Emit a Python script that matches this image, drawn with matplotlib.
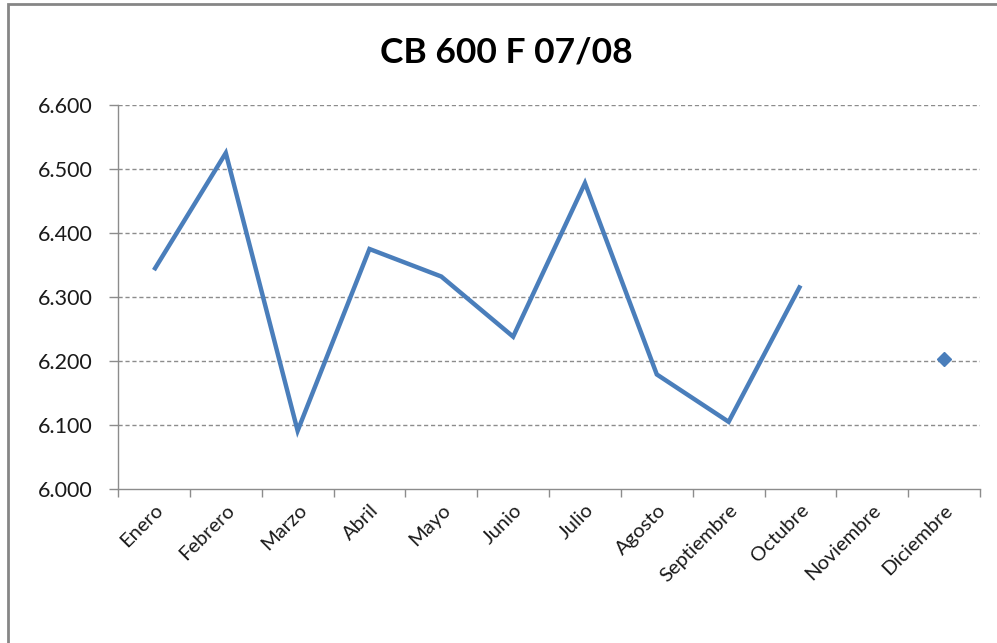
import numpy as np
import matplotlib.pyplot as plt
from matplotlib.patches import Rectangle
from matplotlib.ticker import FuncFormatter, FixedLocator

meses = ["Enero", "Febrero", "Marzo", "Abril", "Mayo", "Junio", "Julio",
         "Agosto", "Septiembre", "Octubre", "Noviembre", "Diciembre"]
precios = [6342, 6525, 6091, 6375, 6332, 6238, 6478, 6179, 6105, 6318, np.nan, 6203]
titulo = "CB 600 F 07/08"

plt.rcParams["font.family"] = ["Lato", "DejaVu Sans"]

fig = plt.figure(figsize=(9.97, 6.43), dpi=100)
ax = fig.add_axes([0.1184, 0.2395, 0.983 - 0.1184, 0.8367 - 0.2395])

x = np.arange(len(meses))
y = np.array(precios, dtype=float)
azul = "#4a7ebb"
ax.plot(x, y, color=azul, lw=3.2, solid_joinstyle="miter", solid_capstyle="butt")

# puntos aislados (sin vecinos) se ven como rombos
aislados = [i for i in range(len(y)) if not np.isnan(y[i])
            and (i == 0 or np.isnan(y[i - 1]))
            and (i == len(y) - 1 or np.isnan(y[i + 1]))]
ax.plot(x[aislados], y[aislados], ls="none", marker="D", ms=7, color=azul)

ax.set_xlim(-0.5, len(meses) - 0.5)
ax.set_ylim(6000, 6600)
ax.set_yticks(np.arange(6000, 6601, 100))
ax.yaxis.set_major_formatter(FuncFormatter(lambda v, p: f"{v:,.0f}".replace(",", ".")))
for v in range(6100, 6601, 100):
    ax.axhline(v, color="#8c8c8c", lw=1, ls=(0, (3, 2)), zorder=0)

ax.set_xticks(x)
ax.set_xticklabels(meses, rotation=45, ha="right", rotation_mode="anchor")
ax.xaxis.set_minor_locator(FixedLocator(np.arange(-0.5, len(meses), 1)))
ax.tick_params(axis="x", which="major", length=0, pad=9, labelsize=14.5, labelcolor="#1a1a1a")
ax.tick_params(axis="x", which="minor", length=6, width=1, color="#8c8c8c", direction="out")
ax.tick_params(axis="y", length=6.5, width=1, color="#8c8c8c", labelsize=15.5,
               labelcolor="#1a1a1a", pad=12)

for lado in ["top", "right"]:
    ax.spines[lado].set_visible(False)
for lado in ["left", "bottom"]:
    ax.spines[lado].set_color("#8c8c8c")
    ax.spines[lado].set_linewidth(1)

fig.text(0.508, 0.918, titulo, ha="center", va="center", fontsize=25.5, fontweight="bold")

# marco del area del grafico
fig.patches.append(Rectangle((8 / 997, -0.05), 1.1, 1 - 4 / 643 + 0.05,
                             transform=fig.transFigure, fill=False,
                             edgecolor="#868686", lw=2))

fig.savefig("out.png", dpi=100)
